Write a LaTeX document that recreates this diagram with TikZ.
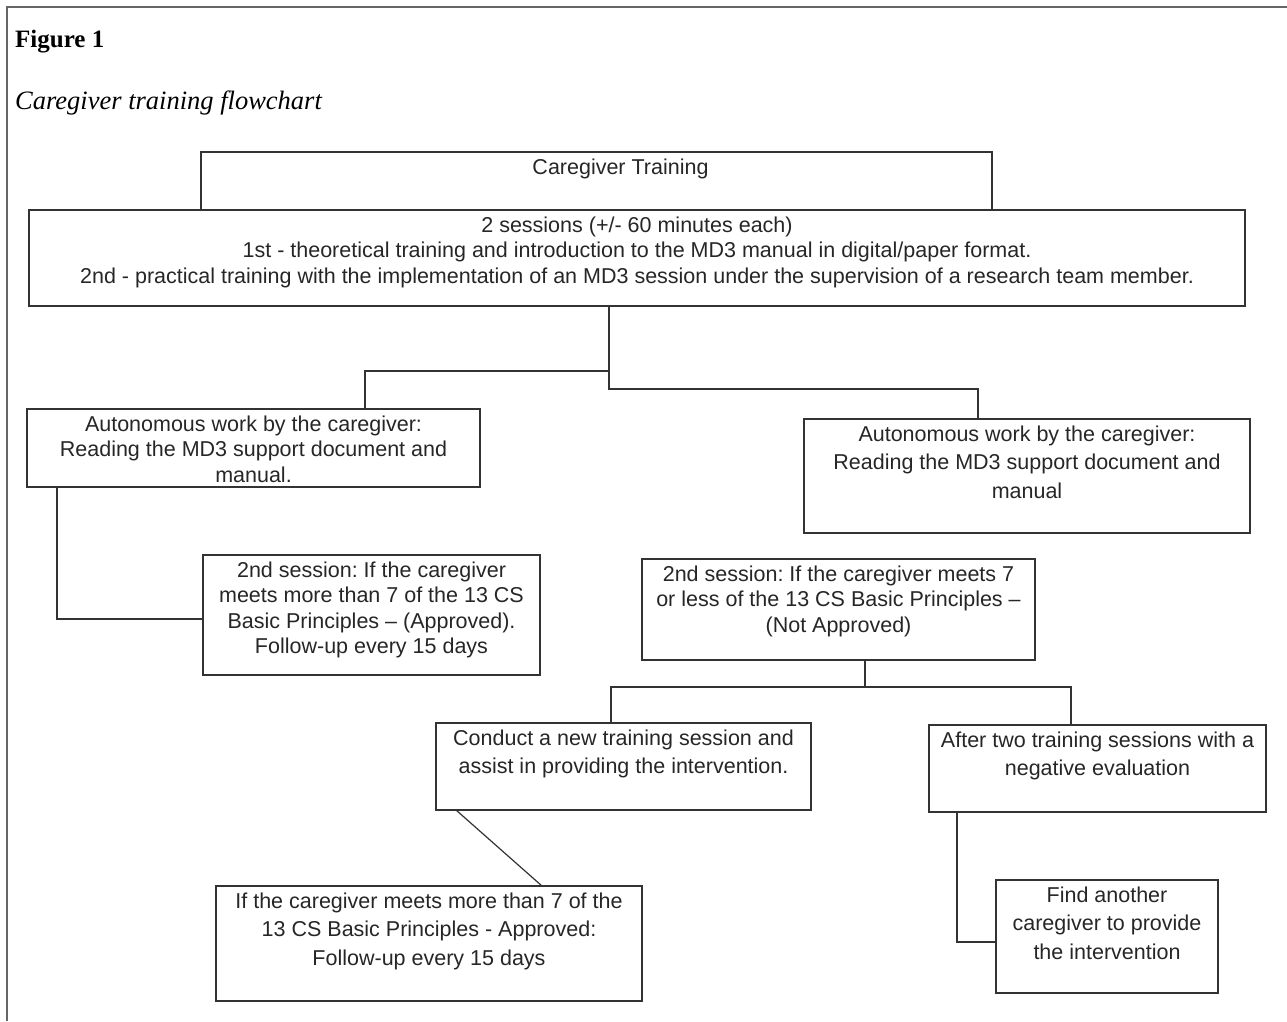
\documentclass[tikz,border=0pt]{standalone}
\usepackage{fontspec}
\setmainfont{Liberation Serif}
\newfontfamily\arialfont{Liberation Sans}
\usetikzlibrary{positioning, calc}
\frenchspacing

% box content: width, height, text (top aligned)
\newcommand{\boxtext}[3]{\parbox[t][#2][t]{#1}{\centering\rule{0pt}{22pt}#3}}

\tikzset{
  box/.style={draw=black!80, line width=1.2pt, inner sep=0pt, outer sep=0pt,
    anchor=north west, text=black!85, font=\arialfont\fontsize{21.5}{25.5}\selectfont},
  loose/.style={font=\arialfont\fontsize{21.5}{28.8}\selectfont},
  link/.style={draw=black!80, line width=1.2pt},
  frame/.style={draw=black!60, line width=2pt}
}

\begin{document}
\begin{tikzpicture}[x=1pt, y=-1pt]
  \useasboundingbox (0,0) rectangle (1287,1021);
  \draw[frame] (1287,7) -- (7,7) -- (7,1021);

  \node[anchor=base west, inner sep=0pt, font=\fontsize{25}{29}\bfseries\selectfont] (fig) at (15,47) {Figure 1};
  \node[anchor=base west, inner sep=0pt, font=\fontsize{26.5}{30}\itshape\selectfont] (cap) at (15,109) {Caregiver training flowchart};

  % boxes
  \node[box] (train) at (201,152) {\boxtext{791pt}{58pt}{\hspace*{48pt}Caregiver Training}};
  \node[box] (sess) at (29,210) {\boxtext{1216pt}{96pt}{2 sessions (+/- 60 minutes each)\\
    1st - theoretical training and introduction to the MD3 manual in digital/paper format.\\
    2nd - practical training with the implementation of an MD3 session under the supervision of a research team member.}};
  \node[box] (autoL) at (27,409) {\boxtext{453pt}{78pt}{Autonomous work by the caregiver:\\Reading the MD3 support document and\\manual.}};
  \node[box, loose] (autoR) at (804,419) {\boxtext{446pt}{114pt}{Autonomous work by the caregiver:\\Reading the MD3 support document and\\manual}};
  \node[box] (pass) at (203,555) {\boxtext{337pt}{120pt}{2nd session: If the caregiver\\meets more than 7 of the 13 CS\\Basic Principles \textendash{} (Approved).\\Follow-up every 15 days}};
  \node[box] (fail) at (642,559) {\boxtext{393pt}{101pt}{2nd session: If the caregiver meets 7\\or less of the 13 CS Basic Principles \textendash\\(Not Approved)}};
  \node[box, loose] (retrain) at (436,723) {\boxtext{375pt}{87pt}{Conduct a new training session and\\assist in providing the intervention.}};
  \node[box, loose] (twice) at (929,725) {\boxtext{337pt}{87pt}{After two training sessions with a\\negative evaluation}};
  \node[box, loose] (passB) at (216,886) {\boxtext{426pt}{115pt}{If the caregiver meets more than 7 of the\\13 CS Basic Principles - Approved:\\Follow-up every 15 days}};
  \node[box, loose] (other) at (996,880) {\boxtext{222pt}{113pt}{Find another\\caregiver to provide\\the intervention}};

  % junctions
  \coordinate (jS) at (609,389);
  \coordinate (jL) at (365,371);
  \coordinate (jR) at (978,389);
  \coordinate (kL) at (57,619);
  \coordinate (jF) at (865,687);
  \coordinate (jG) at (611,687);
  \coordinate (jH) at (1071,687);
  \coordinate (dR) at (456,0);
  \coordinate (dP) at (542,0);
  \coordinate (kT) at (957,942);

  % connectors
  \draw[link] (sess.south -| jS) -- (jS) -- (jR) -- (jR |- autoR.north);
  \draw[link] (jS |- jL) -- (jL) -- (jL |- autoL.north);
  \draw[link] (autoL.south -| kL) -- (kL) -- (kL -| pass.west);
  \draw[link] (fail.south -| jF) -- (jF);
  \draw[link] (jG |- retrain.north) -- (jG) -- (jH) -- (jH |- twice.north);
  \draw[link] (retrain.south -| dR) -- (passB.north -| dP);
  \draw[link] (twice.south -| kT) -- (kT) -- (kT -| other.west);
\end{tikzpicture}
\end{document}
